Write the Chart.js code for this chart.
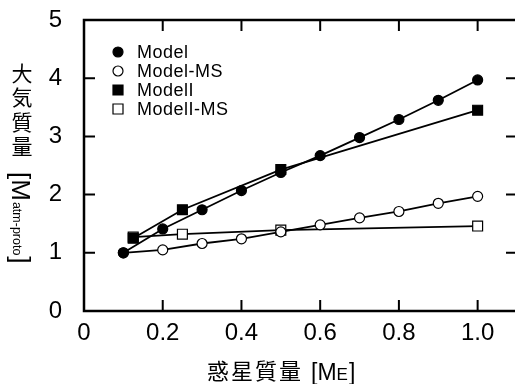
<!DOCTYPE html>
<html>
<head>
<meta charset="utf-8">
<script src="https://cdn.jsdelivr.net/npm/chart.js@4"></script>
<style>
  html, body { margin: 0; padding: 0; overflow: hidden; background: #fff; }
  #wrap { width: 518px; height: 384px; }
</style>
</head>
<body>
<div id="wrap"><canvas id="chart"></canvas></div>
<script>
// planet mass [M_E] vs atmosphere mass [M_atm-proto]
var modelX = [0.1, 0.2, 0.3, 0.4, 0.5, 0.6, 0.7, 0.8, 0.9, 1.0];
var modelY = [1.00, 1.41, 1.74, 2.07, 2.38, 2.67, 2.98, 3.29, 3.62, 3.97];
var modelMsY = [1.00, 1.05, 1.16, 1.24, 1.36, 1.48, 1.60, 1.71, 1.85, 1.97];
var model2X = [0.125, 0.25, 0.5, 1.0];
var model2Y = [1.25, 1.74, 2.43, 3.45];
var model2MsY = [1.27, 1.32, 1.39, 1.46];
var seriesNames = ['Model', 'Model-MS', 'ModelI', 'ModelI-MS'];
var xTickValues = [0, 0.2, 0.4, 0.6, 0.8, 1.0];
var yTickValues = [0, 1, 2, 3, 4, 5];

var LATIN = '"Liberation Sans", Arial, sans-serif';
var CJK = '"Noto Sans CJK JP", sans-serif';

function pts(xs, ys) {
    return xs.map(function (x, i) { return { x: x, y: ys[i] }; });
}

function series(label, xs, ys, style, filled) {
    return {
        label: label,
        data: pts(xs, ys),
        showLine: true,
        borderColor: '#000',
        borderWidth: 1.8,
        pointStyle: style,
        pointRadius: style === 'rect' ? 7 : 5,
        pointHoverRadius: style === 'rect' ? 7 : 5,
        pointBackgroundColor: filled ? '#000' : '#fff',
        pointBorderColor: '#000',
        pointBorderWidth: 1.2
    };
}

// frame, inward tick marks, legend and axis titles
var decorations = {
    id: 'decorations',
    beforeDatasetsDraw: function (chart) {
        var ctx = chart.ctx, a = chart.chartArea;
        var xs = chart.scales.x, ys = chart.scales.y;
        ctx.save();
        ctx.strokeStyle = '#000';
        ctx.lineWidth = 2.5;
        ctx.strokeRect(a.left, a.top, a.right - a.left, a.bottom - a.top);
        ctx.lineWidth = 2;
        ctx.beginPath();
        xTickValues.forEach(function (v) {
            if (v === 0) return;
            var px = xs.getPixelForValue(v);
            ctx.moveTo(px, a.bottom); ctx.lineTo(px, a.bottom - 11);
            ctx.moveTo(px, a.top); ctx.lineTo(px, a.top + 11);
        });
        yTickValues.forEach(function (v) {
            if (v === 0 || v === 5) return;
            var py = ys.getPixelForValue(v);
            ctx.moveTo(a.left, py); ctx.lineTo(a.left + 11, py);
            ctx.moveTo(a.right, py); ctx.lineTo(a.right - 11, py);
        });
        ctx.stroke();
        ctx.restore();
    },
    afterDraw: function (chart) {
        var ctx = chart.ctx;
        ctx.save();
        ctx.fillStyle = '#000';
        ctx.strokeStyle = '#000';

        // legend
        var lx = 118, ly = 52, step = 19;
        chart.data.datasets.forEach(function (ds, i) {
            var y = ly + i * step;
            ctx.beginPath();
            if (ds.pointStyle === 'rect') {
                ctx.rect(lx - 5, y - 5, 10, 10);
            } else {
                ctx.arc(lx, y, 5, 0, Math.PI * 2);
            }
            ctx.fillStyle = ds.pointBackgroundColor;
            ctx.fill();
            ctx.lineWidth = 1.2;
            ctx.stroke();
            ctx.fillStyle = '#000';
            ctx.font = '18px ' + LATIN;
            ctx.letterSpacing = '0.5px';
            ctx.textAlign = 'left';
            ctx.textBaseline = 'middle';
            ctx.fillText(ds.label, 137, y + 1);
        });
        ctx.letterSpacing = '0px';

        // x title
        ctx.textBaseline = 'alphabetic';
        ctx.textAlign = 'left';
        ctx.font = '22px ' + CJK;
        ctx.letterSpacing = '2px';
        ctx.fillText('惑星質量', 207, 379);
        ctx.letterSpacing = '0px';
        var x = 311;
        ctx.font = '23px ' + LATIN;
        ctx.fillText('[', x, 380); x += ctx.measureText('[').width;
        ctx.fillText('M', x, 380); x += ctx.measureText('M').width;
        ctx.font = '17px ' + LATIN;
        ctx.fillText('E', x, 380); x += ctx.measureText('E').width + 1;
        ctx.font = '23px ' + LATIN;
        ctx.fillText(']', x, 380);

        // y title: upright kanji, then rotated unit
        ctx.font = '21px ' + CJK;
        ctx.textAlign = 'center';
        ctx.textBaseline = 'middle';
        ['大', '気', '質', '量'].forEach(function (c, i) {
            ctx.fillText(c, 22, 73 + i * 24.5);
        });
        ctx.translate(12, 172);
        ctx.rotate(Math.PI / 2);
        ctx.textAlign = 'left';
        ctx.textBaseline = 'alphabetic';
        var p = 0;
        ctx.font = '26px ' + LATIN;
        ctx.fillText('[', p, 0); p += ctx.measureText('[').width;
        ctx.fillText('M', p, 0); p += ctx.measureText('M').width + 1;
        ctx.font = '12.5px ' + LATIN;
        ctx.fillText('atm-proto', p, -1); p += ctx.measureText('atm-proto').width + 1;
        ctx.font = '26px ' + LATIN;
        ctx.fillText(']', p, 0);
        ctx.restore();
    }
};

new Chart(document.getElementById('chart'), {
    type: 'scatter',
    data: {
        datasets: [
            series(seriesNames[0], modelX, modelY, 'circle', true),
            series(seriesNames[1], modelX, modelMsY, 'circle', false),
            series(seriesNames[2], model2X, model2Y, 'rect', true),
            series(seriesNames[3], model2X, model2MsY, 'rect', false)
        ]
    },
    options: {
        responsive: true,
        maintainAspectRatio: false,
        devicePixelRatio: 1,
        animation: false,
        layout: { autoPadding: false, padding: { left: 0, top: 20, right: 1, bottom: 0 } },
        plugins: {
            legend: { display: false },
            tooltip: { enabled: false }
        },
        scales: {
            x: {
                type: 'linear',
                min: 0,
                max: 1.1,
                afterBuildTicks: function (s) {
                    s.ticks = xTickValues.map(function (v) { return { value: v }; });
                },
                afterFit: function (s) {
                    s.height = 73;
                    s.paddingLeft = 0;
                    s.paddingRight = 0;
                },
                grid: { display: false, drawTicks: false },
                border: { display: false },
                ticks: {
                    color: '#000',
                    padding: 8,
                    maxRotation: 0,
                    font: { family: LATIN, size: 24 },
                    callback: function (v) { return v === 0 ? '0' : v.toFixed(1); }
                }
            },
            y: {
                min: 0,
                max: 5,
                afterBuildTicks: function (s) {
                    s.ticks = yTickValues.map(function (v) { return { value: v }; });
                },
                afterFit: function (s) {
                    s.width = 84;
                    s.paddingTop = 0;
                    s.paddingBottom = 0;
                },
                grid: { display: false, drawTicks: false },
                border: { display: false },
                ticks: {
                    color: '#000',
                    padding: 22,
                    font: { family: LATIN, size: 24 }
                }
            }
        }
    },
    plugins: [decorations]
});
</script>
</body>
</html>
